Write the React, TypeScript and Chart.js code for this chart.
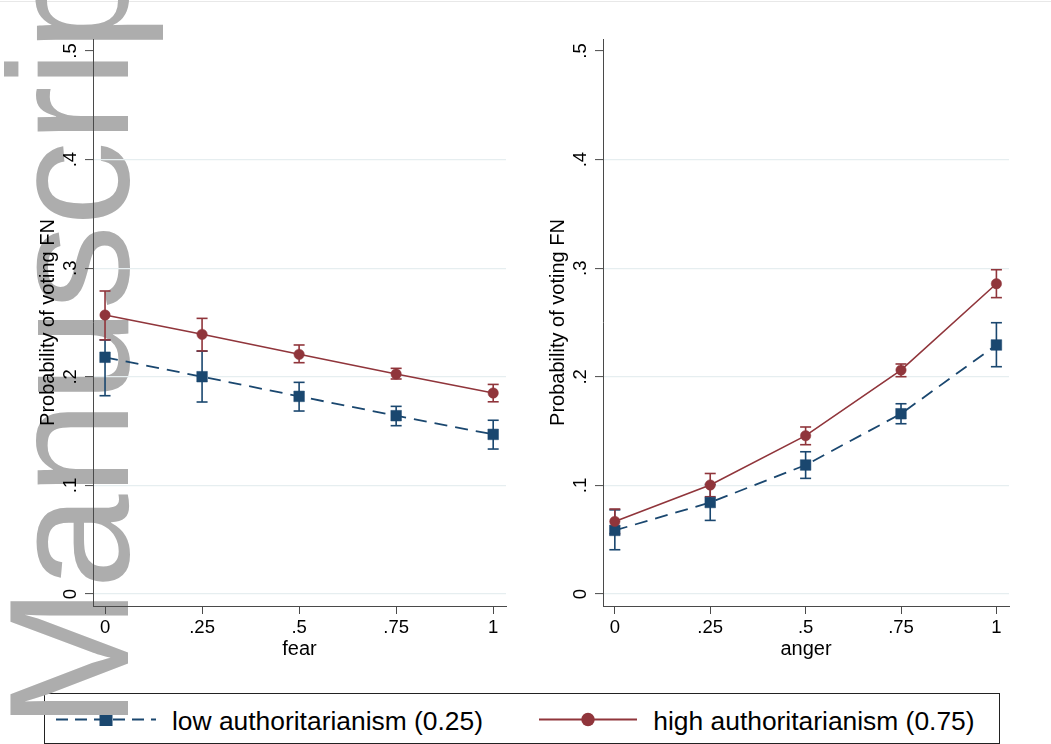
import React, { useEffect, useRef } from 'react';
import { Chart, registerables } from 'chart.js';

Chart.register(...registerables);

const FONT = "'Liberation Sans', Arial, Helvetica, sans-serif";
const NAVY = '#1a476f';
const MAROON = '#90353b';
const AXIS = '#4a4a4a';
const GRID = '#e6eef0';

// ---- data ----
const xValues = [0, 0.25, 0.5, 0.75, 1];
const xTickLabels = ['0', '.25', '.5', '.75', '1'];
const yTickValues = [0, 0.1, 0.2, 0.3, 0.4, 0.5];
const yTickLabels = ['0', '.1', '.2', '.3', '.4', '.5'];
const seriesLabels = ['low authoritarianism (0.25)', 'high authoritarianism (0.75)'];
const panelTitles = ['fear', 'anger'];
const yTitle = 'Probability of voting FN';

// fear panel
const fearLow = [0.218, 0.2001, 0.182, 0.1642, 0.147];
const fearLowLo = [0.1826, 0.1768, 0.1685, 0.155, 0.1335];
const fearLowHi = [0.2339, 0.2236, 0.1949, 0.1728, 0.16];
const fearHigh = [0.2569, 0.2391, 0.2207, 0.2026, 0.1851];
const fearHighLo = [0.234, 0.2238, 0.213, 0.198, 0.177];
const fearHighHi = [0.279, 0.2538, 0.2293, 0.2078, 0.193];

// anger panel
const angerLow = [0.0586, 0.0843, 0.1188, 0.166, 0.2293];
const angerLowLo = [0.0408, 0.0678, 0.1065, 0.1568, 0.2093];
const angerLowHi = [0.0775, 0.1009, 0.131, 0.1752, 0.2498];
const angerHigh = [0.0669, 0.1004, 0.1458, 0.2062, 0.2857];
const angerHighLo = [0.0556, 0.0896, 0.1375, 0.2001, 0.2729];
const angerHighHi = [0.0783, 0.111, 0.1538, 0.2118, 0.2986];

const pts = (vals: number[]) => xValues.map((x, i) => ({ x, y: vals[i] }));
const bars = (lo: number[], hi: number[]) =>
  xValues.flatMap((x, i) => [
    { x, y: lo[i] },
    { x, y: hi[i] },
    { x, y: null as any },
  ]);

function makeConfig(
  low: number[], lowLo: number[], lowHi: number[],
  high: number[], highLo: number[], highHi: number[],
  xTitle: string, padRight: number
): any {
  return {
    type: 'line',
    data: {
      datasets: [
        {
          label: seriesLabels[1],
          data: pts(high),
          borderColor: MAROON,
          backgroundColor: MAROON,
          borderWidth: 1.6,
          pointStyle: 'circle',
          pointRadius: 5.2,
          pointBackgroundColor: MAROON,
          pointBorderColor: MAROON,
          pointBorderWidth: 0.5,
          order: 0,
        },
        {
          label: seriesLabels[0],
          data: pts(low),
          borderColor: NAVY,
          backgroundColor: NAVY,
          borderWidth: 1.8,
          borderDash: [13, 8],
          pointStyle: 'rect',
          pointRadius: 7.5,
          pointBackgroundColor: NAVY,
          pointBorderColor: NAVY,
          pointBorderWidth: 0.5,
          order: 0,
        },
        {
          label: 'ci high',
          data: bars(highLo, highHi),
          borderColor: MAROON,
          borderWidth: 1.6,
          pointStyle: 'line',
          pointRadius: 5.5,
          pointBorderColor: MAROON,
          pointBorderWidth: 1.6,
          spanGaps: false,
          order: 1,
        },
        {
          label: 'ci low',
          data: bars(lowLo, lowHi),
          borderColor: NAVY,
          borderWidth: 1.6,
          pointStyle: 'line',
          pointRadius: 5.5,
          pointBorderColor: NAVY,
          pointBorderWidth: 1.6,
          spanGaps: false,
          order: 1,
        },
      ],
    },
    options: {
      responsive: false,
      animation: false,
      events: [],
      layout: { padding: { top: 39, right: padRight, bottom: 24, left: 0 } },
      plugins: { legend: { display: false }, tooltip: { enabled: false } },
      scales: {
        x: {
          type: 'linear',
          min: -0.031,
          max: 1.033,
          afterBuildTicks: (s: any) => {
            s.ticks = xValues.map((v) => ({ value: v }));
          },
          ticks: {
            callback: (_v: any, i: number) => xTickLabels[i],
            font: { size: 18.5, family: FONT },
            color: '#000',
            padding: 3,
            autoSkip: false,
            minRotation: 0,
            maxRotation: 0,
          },
          grid: {
            drawOnChartArea: false,
            drawTicks: true,
            tickLength: 8,
            tickColor: AXIS,
            tickWidth: 1,
          },
          border: { color: AXIS, width: 1 },
          title: {
            display: true,
            text: xTitle,
            font: { size: 20, family: FONT },
            color: '#000',
            padding: { top: 0, bottom: 5 },
          },
          afterFit: (s: any) => {
            s.height = 60;
          },
        },
        y: {
          type: 'linear',
          min: -0.011,
          max: 0.511,
          afterBuildTicks: (s: any) => {
            s.ticks = yTickValues.map((v) => ({ value: v }));
          },
          ticks: {
            callback: (_v: any, i: number) => yTickLabels[i],
            font: { size: 18.5, family: FONT },
            color: '#000',
            padding: 6.8,
            minRotation: 90,
            maxRotation: 90,
            crossAlign: 'center',
            autoSkip: false,
          },
          grid: {
            color: (c: any) =>
              c.tick && Math.abs(c.tick.value - 0.5) < 1e-9 ? 'rgba(0,0,0,0)' : GRID,
            lineWidth: 1.2,
            tickColor: AXIS,
            tickLength: 8,
            tickWidth: 1,
          },
          border: { color: AXIS, width: 1 },
          title: {
            display: true,
            text: yTitle,
            font: { size: 20, family: FONT },
            color: '#000',
            padding: { top: 36, bottom: 0 },
          },
          afterFit: (s: any) => {
            s.width = 93;
          },
        },
      },
    },
  };
}

export default function App() {
  const leftRef = useRef<HTMLCanvasElement | null>(null);
  const rightRef = useRef<HTMLCanvasElement | null>(null);

  useEffect(() => {
    Chart.defaults.font.family = FONT;
    const c1 = new Chart(
      leftRef.current as HTMLCanvasElement,
      makeConfig(fearLow, fearLowLo, fearLowHi, fearHigh, fearHighLo, fearHighHi, panelTitles[0], 14)
    );
    const c2 = new Chart(
      rightRef.current as HTMLCanvasElement,
      makeConfig(angerLow, angerLowLo, angerLowHi, angerHigh, angerHighLo, angerHighHi, panelTitles[1], 31)
    );
    return () => {
      c1.destroy();
      c2.destroy();
    };
  }, []);

  return (
    <div
      style={{
        position: 'absolute',
        left: 0,
        top: 0,
        width: 1051,
        height: 744,
        background: '#fff',
        overflow: 'hidden',
        fontFamily: FONT,
      }}
    >
      <div
        style={{
          position: 'absolute',
          left: 0,
          top: 1,
          width: 1051,
          height: 0,
          borderTop: '1px solid #e8e8e8',
        }}
      />
      <svg
        width={1051}
        height={744}
        style={{ position: 'absolute', left: 0, top: 0, zIndex: 1 }}
      >
        <rect x={44.5} y={693.5} width={955} height={50} fill="none" stroke="#222" strokeWidth={1} />
        <line x1={56} y1={719.5} x2={156} y2={719.5} stroke={NAVY} strokeWidth={2} strokeDasharray="12 7" />
        <rect x={99.5} y={713} width={13} height={13} fill={NAVY} />
        <text x={172} y={730} fontSize={26.4} fill="#000" fontFamily={FONT}>
          {seriesLabels[0]}
        </text>
        <line x1={539} y1={719.5} x2={637} y2={719.5} stroke={MAROON} strokeWidth={2} />
        <circle cx={588} cy={719.5} r={6.7} fill={MAROON} />
        <text x={653.3} y={730} fontSize={26.4} fill="#000" fontFamily={FONT}>
          {seriesLabels[1]}
        </text>
      </svg>
      <svg
        width={1051}
        height={744}
        style={{ position: 'absolute', left: 0, top: 0, zIndex: 2 }}
      >
        <text
          transform="translate(128,729) rotate(-90)"
          fontSize={170}
          letterSpacing={-1.5}
          fill="#adadad"
          fontFamily={FONT}
        >
          Manuscript
        </text>
      </svg>
      <canvas
        ref={leftRef}
        width={520}
        height={690}
        style={{ position: 'absolute', left: 0, top: 0, zIndex: 3 }}
      />
      <canvas
        ref={rightRef}
        width={530}
        height={690}
        style={{ position: 'absolute', left: 510, top: 0, zIndex: 3 }}
      />
    </div>
  );
}
